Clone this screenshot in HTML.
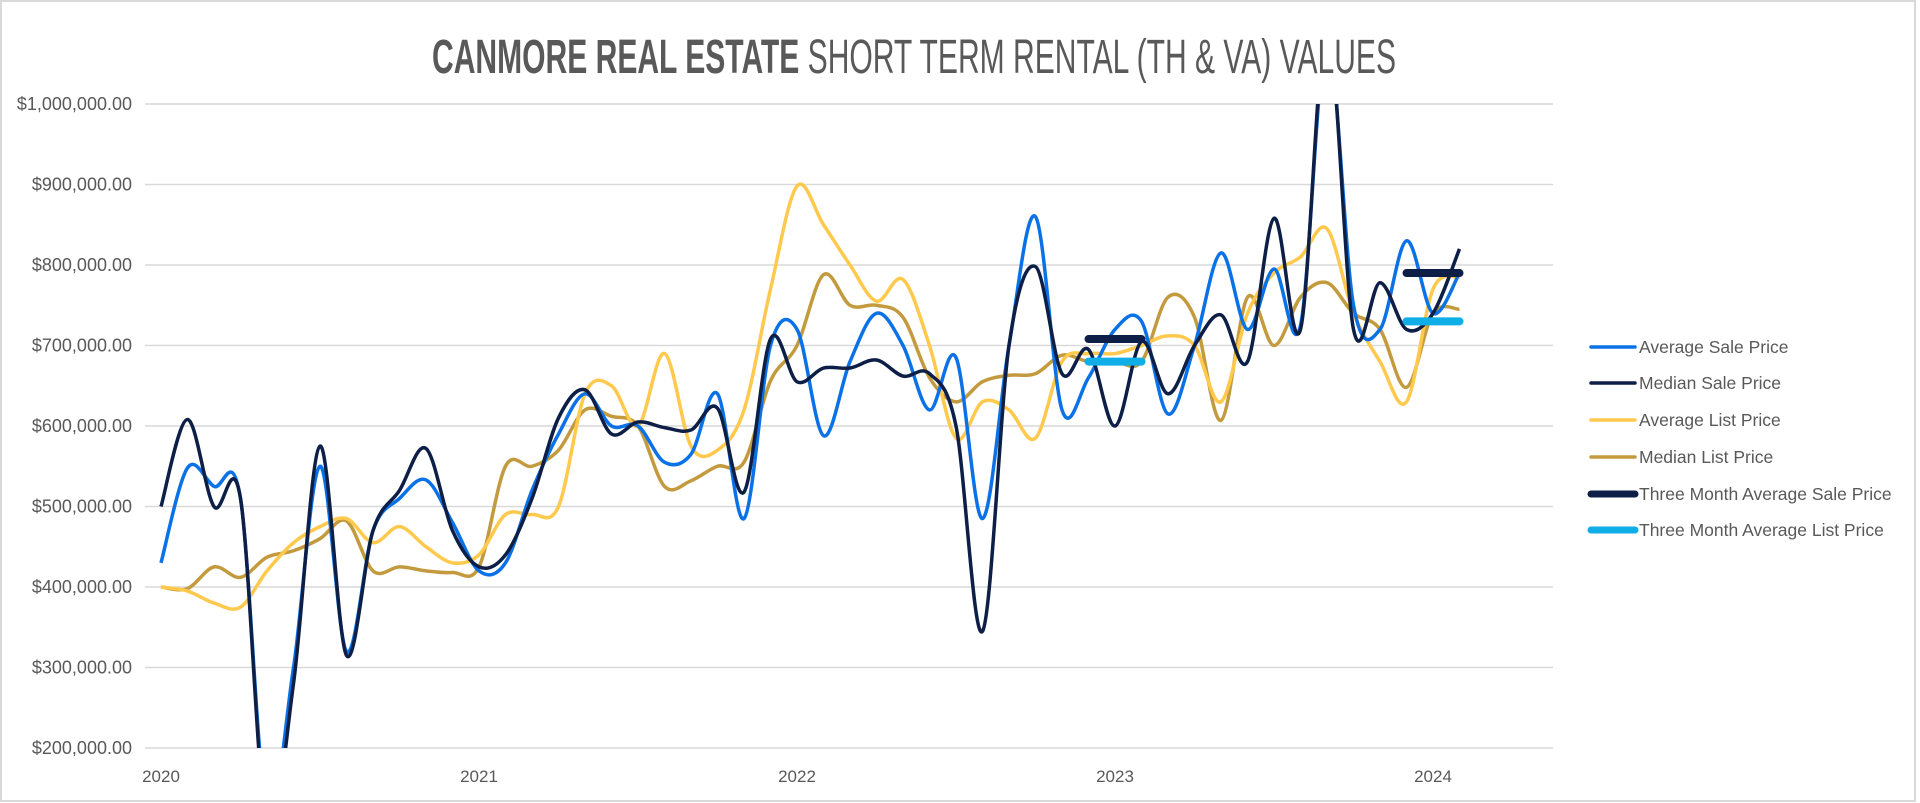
<!DOCTYPE html>
<html><head><meta charset="utf-8"><style>
html,body{margin:0;padding:0;background:#fff;}
svg{display:block;font-family:"Liberation Sans",sans-serif;}
</style></head><body>
<svg id="chart" width="1920" height="803" viewBox="0 0 1920 803">
<rect x="1" y="1" width="1914" height="800" fill="#fff" stroke="#d9d9d9" stroke-width="2"/>
<text x="914" y="73" font-family="'Liberation Sans Narrow','Liberation Sans',sans-serif" font-size="48" fill="#595959" textLength="964" lengthAdjust="spacingAndGlyphs" text-anchor="middle"><tspan font-weight="bold">CANMORE REAL ESTATE</tspan> SHORT TERM RENTAL (TH &amp; VA) VALUES</text>
<defs><clipPath id="plotclip"><rect x="140" y="104" width="1420" height="644"/></clipPath></defs>
<g id="grid"></g>
<g id="series" clip-path="url(#plotclip)"></g>
<g id="legend"></g>
</svg>
<script>
const months = Array.from({length:50},(_,i)=>i); // Jan 2020 .. Feb 2024
const yTicks = [200000,300000,400000,500000,600000,700000,800000,900000,1000000];
const yearLabels = ["2020","2021","2022","2023","2024"];
const avgSale = [430000,548000,525000,510000,120000,300000,550000,320000,470000,510000,533000,480000,420000,430000,520000,590000,640000,600000,600000,555000,565000,640000,485000,700000,720000,588000,680000,740000,700000,620000,685000,485000,700000,860000,620000,660000,720000,730000,615000,700000,815000,720000,795000,725000,1080000,750000,720000,830000,740000,790000];
const medianSale = [500000,608000,500000,510000,100000,280000,575000,315000,470000,520000,572000,470000,425000,440000,510000,610000,645000,590000,605000,598000,595000,622000,518000,708000,655000,672000,672000,682000,662000,665000,600000,345000,700000,798000,665000,695000,600000,705000,640000,700000,738000,680000,858000,720000,1100000,720000,778000,720000,740000,820000];
const avgList = [400000,395000,380000,375000,420000,455000,475000,485000,455000,475000,450000,430000,440000,490000,490000,500000,640000,650000,600000,690000,575000,570000,620000,770000,898000,850000,800000,755000,782000,700000,585000,630000,620000,585000,680000,690000,690000,700000,712000,700000,630000,740000,790000,810000,845000,740000,680000,630000,770000,785000];
const medianList = [400000,398000,425000,412000,437000,445000,460000,482000,420000,425000,420000,418000,425000,550000,550000,570000,620000,612000,600000,525000,532000,550000,555000,656000,700000,788000,750000,750000,735000,660000,630000,655000,663000,665000,688000,680000,680000,680000,760000,735000,607000,760000,700000,760000,778000,740000,720000,648000,740000,745000];
const threeMoSaleIdx = [[35,37],[47,49]];
const threeMoSale = [708000,790000];
const threeMoListIdx = [[35,37],[47,49]];
const threeMoList = [680000,730000];

const NS="http://www.w3.org/2000/svg";
const X0=161, MONTH=26.5, YB=748, YT=104;
const xS = i => X0 + i*MONTH;
const yS = v => YB - (v-200000)/800000*(YB-YT);
function mk(tag, attrs, parent){const e=document.createElementNS(NS,tag);for(const k in attrs)e.setAttribute(k,attrs[k]);parent.appendChild(e);return e;}
const grid=document.getElementById('grid'), series=document.getElementById('series'), legend=document.getElementById('legend');

yTicks.forEach(v=>{
  const l=mk('line',{x1:145,x2:1553,y1:yS(v),y2:yS(v),stroke:'#d9d9d9','stroke-width':1.5},grid);
  
  
  const t=mk('text',{x:132,y:yS(v)+6,'text-anchor':'end','font-size':18,fill:'#595959'},grid);
  t.textContent='$'+v.toLocaleString('en-US')+'.00';
  
  
});
yearLabels.forEach((y,k)=>{
  const t=mk('text',{x:xS(k*12),y:782,'text-anchor':'middle','font-size':17,fill:'#595959'},grid);
  t.textContent=y;
  
  
});

function smooth(pts){
  let d='M'+pts[0][0]+','+pts[0][1];
  for(let i=0;i<pts.length-1;i++){
    const p0=pts[i-1]||pts[i],p1=pts[i],p2=pts[i+1],p3=pts[i+2]||p2;
    const c1=[p1[0]+(p2[0]-p0[0])/6,p1[1]+(p2[1]-p0[1])/6];
    const c2=[p2[0]-(p3[0]-p1[0])/6,p2[1]-(p3[1]-p1[1])/6];
    d+=' C'+c1[0]+','+c1[1]+' '+c2[0]+','+c2[1]+' '+p2[0]+','+p2[1];
  }
  return d;
}
function drawLine(vals,color,name){
  const p=mk('path',{d:smooth(vals.map((v,i)=>[xS(months[i]),yS(v)])),fill:'none',stroke:color,'stroke-width':3.5,'stroke-linejoin':'round'},series);
  
  
}
drawLine(medianList,'#C39B3E','median-list-price-line');
drawLine(avgList,'#FFC94D','average-list-price-line');
drawLine(avgSale,'#0A72E6','average-sale-price-line');
drawLine(medianSale,'#0D1F47','median-sale-price-line');
function drawSeg(idx,vals,color,name){
  idx.forEach((r,k)=>{
    const l=mk('line',{x1:xS(r[0]),x2:xS(r[1]),y1:yS(vals[k]),y2:yS(vals[k]),stroke:color,'stroke-width':8,'stroke-linecap':'round'},series);
    
    
  });
}
drawSeg(threeMoSaleIdx,threeMoSale,'#0D1F47','three-month-avg-sale-segment');
drawSeg(threeMoListIdx,threeMoList,'#10AEE6','three-month-avg-list-segment');

const legendNames=["Average Sale Price","Median Sale Price","Average List Price","Median List Price","Three Month Average Sale Price","Three Month Average List Price"];
const legendColors=['#0A72E6','#0D1F47','#FFC94D','#C39B3E','#0D1F47','#10AEE6'];
const legendY=[347,383,420,457,494,530];
legendNames.forEach((n,k)=>{
  const g=mk('g',{},legend);
  
  
  mk('line',{x1:1591,x2:1635,y1:legendY[k],y2:legendY[k],stroke:legendColors[k],'stroke-width':k>=4?7:3.5,'stroke-linecap':'round'},g);
  const t=mk('text',{x:1639,y:legendY[k]+6,'font-size':17.5,fill:'#595959'},g);
  t.textContent=n;
});
</script>
</body></html>
